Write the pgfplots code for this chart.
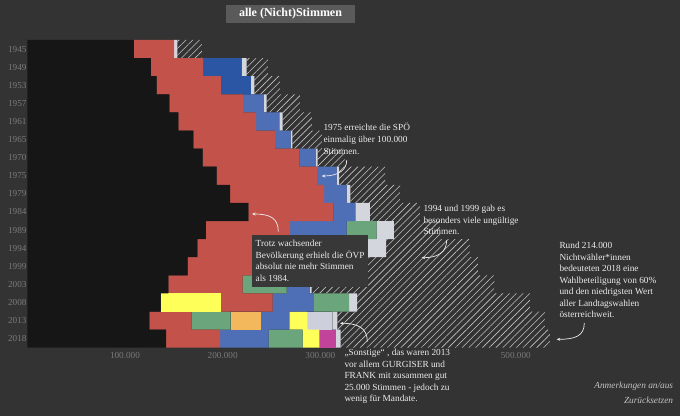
\documentclass[border=0pt]{standalone}
\usepackage{fontspec}
\setmainfont{Liberation Serif}
\usepackage{pgfplots}
\pgfplotsset{compat=1.18}
\usepackage{pgfplotstable}
\usetikzlibrary{patterns.meta,arrows.meta}

\definecolor{bg}{HTML}{333333}
\definecolor{cOEVP}{HTML}{161616}
\definecolor{cSPOE}{HTML}{C2524A}
\definecolor{cWDU}{HTML}{2B56A3}
\definecolor{cFPOE}{HTML}{4E6FB6}
\definecolor{cGRUEN}{HTML}{6AA57C}
\definecolor{cFRITZ}{HTML}{FFFF5A}
\definecolor{cVT}{HTML}{F4B85C}
\definecolor{cNEOS}{HTML}{C2449A}
\definecolor{cSONST}{HTML}{CDD0DC}
\definecolor{cUNG}{HTML}{D4D6DE}
\definecolor{hatch}{HTML}{C4C4C4}
\definecolor{ticktext}{HTML}{7A7A7A}
\definecolor{anntext}{HTML}{ECECEC}
\definecolor{titlebg}{HTML}{5A5A5A}
\definecolor{boxbg}{HTML}{383838}
\definecolor{linktext}{HTML}{C4C4C4}

\pgfplotstableread{
y oevp fritzA spoe gruenA vt wdu fpoe gruenB fritzB neos sonst ung nicht
16 109.2 0 41.2 0 0 0 0 0 0 0 0 3.1 25.3
15 126.6 0 53.5 0 0 39.3 0 0 0 0 0 5.1 21.8
14 132.4 0 65.8 0 0 30.7 0 0 0 0 0 3.4 26.3
13 145.3 0 75.7 0 0 0 21.2 0 0 0 0 2.8 34.1
12 154.6 0 79.5 0 0 0 23.8 0 0 0 0 3.5 30.0
11 169.9 0 83.6 0 0 0 16.1 0 0 0 0 1.8 30.2
10 179.5 0 99.1 0 0 0 16.9 0 0 0 0 1.7 27.9
9 193.9 0 102.7 0 0 0 20.0 0 0 0 0 2.6 47.1
8 207.5 0 96.4 0 0 0 23.0 0 0 0 0 3.7 50.9
7 226.2 0 87.0 0 0 0 22.7 0 0 0 0 14.8 51.2
6 182.9 0 86.0 0 0 0 58.0 30.7 0 0 0 17.7 47.1
5 174.2 0 72.9 0 0 0 59.2 42.0 0 0 0 19.1 85.3
4 164.2 0 75.8 0 0 0 68.2 27.8 0 0 0 12.7 112.6
3 144.3 0 76.2 45.0 0 0 23.8 0 0 0 0 1.7 187.0
2 136.5 61.7 52.9 0 0 0 41.6 36.8 0 0 0 8.2 176.8
1 124.9 0 43.4 39.9 30.7 0 29.3 0 18.4 0 25.7 5.0 212.6
0 142.0 0 55.3 0 0 0 49.8 34.8 17.0 17.1 0 4.8 214.0
}\data

\newcommand{\tl}[3]{\node[anchor=base west, inner sep=0pt, font=\fontsize{9.3}{11.7}\selectfont, text=anntext] at (#1,#2) {#3};}

\begin{document}
\begin{tikzpicture}
\begin{scope}[shift={(0pt,416pt)}, x=1pt, y=-1pt]
\fill[bg] (0,0) rectangle (680,416);
\end{scope}

\begin{axis}[
  at={(27.3pt,68.3pt)}, anchor=south west, scale only axis,
  width=547.1pt, height=307.7pt,
  xmin=0, xmax=560, ymin=-0.5, ymax=16.5,
  xbar stacked, bar width=1, bar shift=0pt,
  axis line style={draw=none}, major tick length=0pt,
  ytick={0,...,16},
  yticklabels={2018,2013,2008,2003,1999,1994,1989,1984,1979,1975,1970,1965,1961,1957,1953,1949,1945},
  xtick={100,200,300,500},
  xticklabels={100.000,200.000,300.000,500.000},
  tick label style={font=\fontsize{9.2}{10}\selectfont, text=ticktext},
  yticklabel style={anchor=east, inner sep=0pt, xshift=-0.6pt},
  xticklabel style={anchor=center, inner sep=0pt, yshift=-8pt},
  clip=false,
]
\addplot[fill=cOEVP, draw=none] table[x=oevp,y=y]{\data};
\addplot[fill=cFRITZ, draw=none] table[x=fritzA,y=y]{\data};
\addplot[fill=cSPOE, draw=none] table[x=spoe,y=y]{\data};
\addplot[fill=cGRUEN, draw=none] table[x=gruenA,y=y]{\data};
\addplot[fill=cVT, draw=none] table[x=vt,y=y]{\data};
\addplot[fill=cWDU, draw=none] table[x=wdu,y=y]{\data};
\addplot[fill=cFPOE, draw=none] table[x=fpoe,y=y]{\data};
\addplot[fill=cGRUEN, draw=none] table[x=gruenB,y=y]{\data};
\addplot[fill=cFRITZ, draw=none] table[x=fritzB,y=y]{\data};
\addplot[fill=cNEOS, draw=none] table[x=neos,y=y]{\data};
\addplot[fill=cSONST, draw=none] table[x=sonst,y=y]{\data};
\addplot[fill=cUNG, draw=none] table[x=ung,y=y]{\data};
\addplot[draw=none, pattern={Lines[angle=45,distance=4.8pt,line width=0.6pt]}, pattern color=hatch] table[x=nicht,y=y]{\data};
\end{axis}

\begin{scope}[shift={(0pt,416pt)}, x=1pt, y=-1pt]
% title
\fill[titlebg] (226,5) rectangle (355,22.7);
\node[font=\bfseries\fontsize{12}{14}\selectfont, text=white] at (290.5,14) {alle (Nicht)Stimmen};

\tikzset{arr/.style={-{Stealth[length=3.5pt,width=3pt]}, line width=0.7pt, draw=anntext}}

% annotation 1
\tl{323.3}{130.8}{1975 erreichte die SPÖ}
\tl{323.3}{142.4}{einmalig über 100.000}
\tl{323.3}{154.1}{Stimmen.}
\draw[arr] (346.7,160) .. controls (347,170) and (338,176) .. (321.7,176);

% annotation 2
\tl{423.3}{211.4}{1994 und 1999 gab es}
\tl{423.3}{223.1}{besonders viele ungültige}
\tl{423.3}{234.8}{Stimmen.}
\draw[arr] (446.7,240) .. controls (446.7,252) and (438,257.7) .. (421.7,257.7);

% box annotation
\fill[boxbg] (252,235) rectangle (368,287);
\tl{255.5}{246.4}{Trotz wachsender}
\tl{255.5}{258.1}{Bevölkerung erhielt die ÖVP}
\tl{255.5}{269.8}{absolut nie mehr Stimmen}
\tl{255.5}{281.4}{als 1984.}
\draw[arr] (278.3,231.7) .. controls (278.3,218) and (270,214) .. (252,214);

% annotation 4
\tl{344.3}{355.4}{„Sonstige“ , das waren 2013}
\tl{344.3}{367.1}{vor allem GURGISER und}
\tl{344.3}{378.8}{FRANK mit zusammen gut}
\tl{344.3}{390.1}{25.000 Stimmen - jedoch zu}
\tl{344.3}{401.4}{wenig für Mandate.}
\draw[arr] (367.3,341.7) .. controls (367.3,328) and (358,323.3) .. (340,323.3);

% annotation 5
\tl{559.3}{248.8}{Rund 214.000}
\tl{559.3}{260.1}{Nichtwähler*innen}
\tl{559.3}{271.8}{bedeuteten 2018 eine}
\tl{559.3}{283.4}{Wahlbeteiligung von 60\%}
\tl{559.3}{294.8}{und den niedrigsten Wert}
\tl{559.3}{306.1}{aller Landtagswahlen}
\tl{559.3}{317.4}{österreichweit.}
\draw[arr] (584.3,323) .. controls (584.3,336) and (575,339.3) .. (556.7,339.3);

% links
\node[anchor=base east, inner sep=0pt, font=\itshape\fontsize{9.3}{11}\selectfont, text=linktext] at (673.3,388.1) {Anmerkungen an/aus};
\node[anchor=base east, inner sep=0pt, font=\itshape\fontsize{9.3}{11}\selectfont, text=linktext] at (673.3,403.1) {Zurücksetzen};
\end{scope}
\end{tikzpicture}
\end{document}
